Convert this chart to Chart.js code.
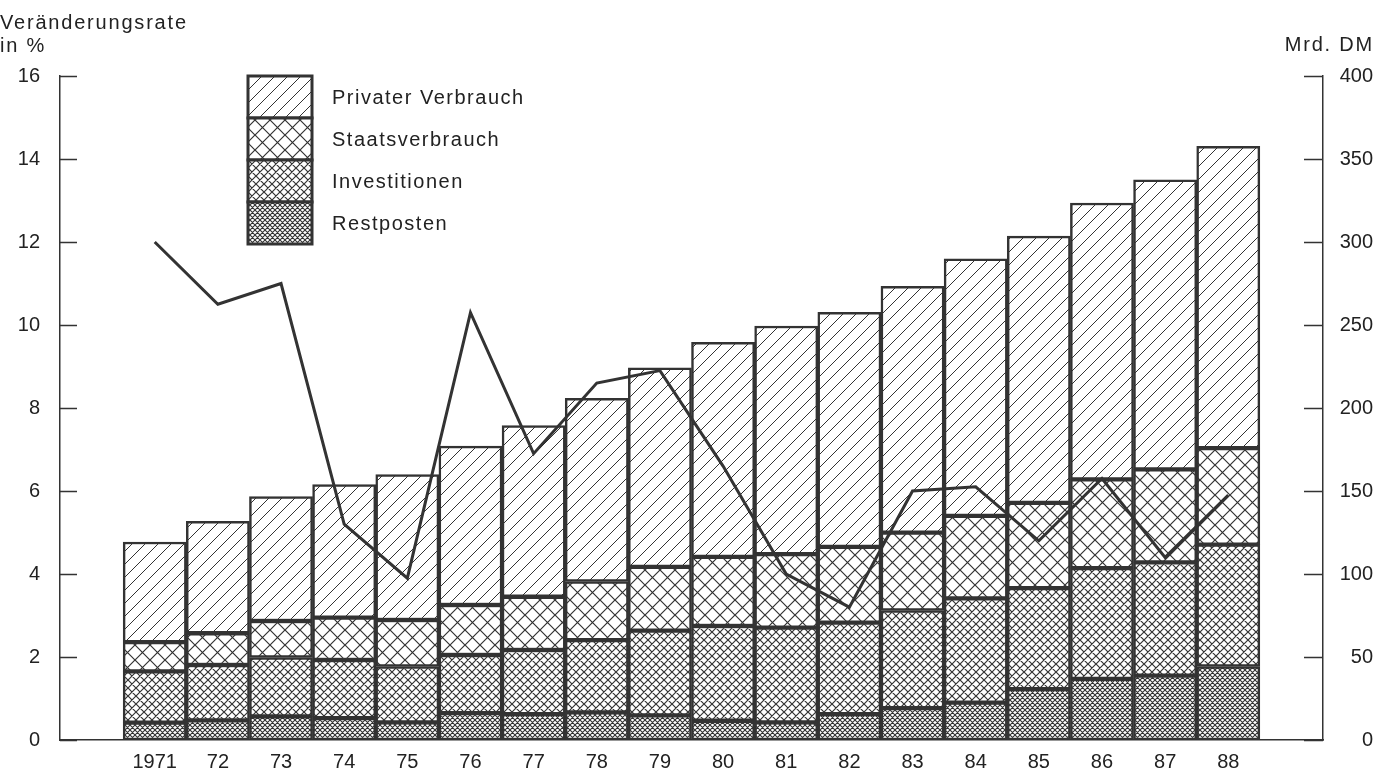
<!DOCTYPE html>
<html lang="de">
<head>
<meta charset="utf-8">
<title>Verwendung des Sozialprodukts 1971-1988</title>
<script src="https://cdn.jsdelivr.net/npm/chart.js@4.4.1/dist/chart.umd.min.js"></script>
<style>
  html, body { margin: 0; padding: 0; background: #fff; }
  #wrap { width: 1388px; height: 772px; }
</style>
</head>
<body>
<div id="wrap"><canvas id="chart" width="1388" height="772"></canvas></div>
<script>
// data (Mrd. DM, stacked from the bottom up)
const years = ['1971', '72', '73', '74', '75', '76', '77', '78', '79',
               '80', '81', '82', '83', '84', '85', '86', '87', '88'];
const restposten = [10.5, 11.8, 14.2, 13.2, 10.6, 16.2, 15.6, 16.6, 14.8,
                    11.6, 10.6, 15.6, 19.2, 22.5, 30.6, 36.8, 38.8, 44.3];
const investitionen = [30.8, 33.4, 35.5, 35.0, 33.7, 35.0, 38.6, 43.6, 51.1,
                       57.1, 57.1, 55.1, 58.8, 62.8, 60.9, 66.7, 68.2, 73.4];
const staatsverbrauch = [17.7, 19.1, 22.0, 25.5, 28.0, 30.1, 32.1, 35.3, 38.4,
                         41.6, 44.3, 45.6, 46.9, 49.7, 51.3, 53.5, 56.0, 58.1];
const privaterVerbrauch = [60.3, 67.4, 75.0, 80.2, 87.6, 95.7, 103.1, 110.3, 119.9,
                           129.2, 137.4, 141.4, 148.4, 154.8, 160.7, 166.5, 174.5, 181.9];
// Veränderungsrate in % (left axis)
const rate = [12.0, 10.5, 11.0, 5.2, 3.9, 10.3, 6.9, 8.6, 8.9,
              6.6, 4.0, 3.2, 6.0, 6.1, 4.8, 6.3, 4.4, 5.9];

const ink = '#333';
const textInk = '#222';

// one empty slot on each side of the bars
const pad = arr => [null, ...arr, null];
const labels = ['', ...years, ''];

// hatch patterns
function hatch(size, cross, lw) {
  const c = document.createElement('canvas');
  c.width = c.height = size;
  const g = c.getContext('2d');
  g.fillStyle = '#fff';
  g.fillRect(0, 0, size, size);
  g.strokeStyle = ink;
  g.lineWidth = lw;
  g.beginPath();
  for (let k = -1; k <= 1; k++) {
    g.moveTo(k * size, size);
    g.lineTo(k * size + size, 0);
    if (cross) {
      g.moveTo(k * size, 0);
      g.lineTo(k * size + size, size);
    }
  }
  g.stroke();
  return g.createPattern(c, 'repeat');
}

const patPriv = hatch(13, false, 1);
const patStaat = hatch(15, true, 1.2);
const patInv = hatch(8, true, 1.2);
const patRest = hatch(5, true, 1.1);

Chart.defaults.font.family = '"Liberation Sans", Arial, sans-serif';
Chart.defaults.font.size = 20;
Chart.defaults.color = textInk;

function barSet(label, data, pattern) {
  return {
    type: 'bar',
    label: label,
    data: pad(data),
    backgroundColor: pattern,
    borderColor: ink,
    borderWidth: 2.5,
    borderSkipped: false,
    yAxisID: 'y2',
    stack: 'dm',
    order: 1,
    barPercentage: 1,
    categoryPercentage: 1
  };
}

// axis ticks, titles and the stacked legend box
const decor = {
  id: 'decor',
  afterDraw(chart) {
    const ctx = chart.ctx;
    const a = chart.chartArea;
    const yl = chart.scales.y;
    const yr = chart.scales.y2;
    ctx.save();
    ctx.strokeStyle = ink;
    ctx.lineWidth = 1.5;
    ctx.beginPath();
    yl.ticks.forEach(t => {
      const py = Math.round(yl.getPixelForValue(t.value)) + 0.5;
      ctx.moveTo(a.left, py);
      ctx.lineTo(a.left + 17, py);
    });
    yr.ticks.forEach(t => {
      const py = Math.round(yr.getPixelForValue(t.value)) + 0.5;
      ctx.moveTo(a.right - 19, py);
      ctx.lineTo(a.right, py);
    });
    ctx.stroke();

    ctx.fillStyle = textInk;
    ctx.font = '20px "Liberation Sans", Arial, sans-serif';
    ctx.textBaseline = 'alphabetic';
    if ('letterSpacing' in ctx) ctx.letterSpacing = '1.8px';
    ctx.textAlign = 'left';
    ctx.fillText('Veränderungsrate', 0, 29);
    ctx.fillText('in %', 0, 52);
    ctx.textAlign = 'right';
    ctx.fillText('Mrd. DM', 1374, 51);

    // legend: topmost series first
    const items = chart.data.datasets.filter(d => d.type === 'bar').slice().reverse();
    const bx = 248, by = 76, bw = 64, bh = 42;
    ctx.textAlign = 'left';
    ctx.textBaseline = 'middle';
    if ('letterSpacing' in ctx) ctx.letterSpacing = '1.5px';
    items.forEach((d, i) => {
      const y = by + i * bh;
      ctx.fillStyle = d.backgroundColor;
      ctx.fillRect(bx, y, bw, bh);
      ctx.lineWidth = 3;
      ctx.strokeStyle = ink;
      ctx.strokeRect(bx, y, bw, bh);
      ctx.fillStyle = textInk;
      ctx.fillText(d.label, 332, y + bh / 2 + 1);
    });
    ctx.restore();
  }
};

new Chart(document.getElementById('chart'), {
  data: {
    labels: labels,
    datasets: [
      {
        type: 'line',
        label: 'Veränderungsrate',
        data: pad(rate),
        yAxisID: 'y',
        borderColor: ink,
        borderWidth: 3,
        pointRadius: 0,
        tension: 0,
        fill: false,
        order: 0
      },
      barSet('Restposten', restposten, patRest),
      barSet('Investitionen', investitionen, patInv),
      barSet('Staatsverbrauch', staatsverbrauch, patStaat),
      barSet('Privater Verbrauch', privaterVerbrauch, patPriv)
    ]
  },
  options: {
    responsive: false,
    animation: false,
    layout: { padding: { top: 76, right: 15, bottom: 0, left: 0 } },
    plugins: {
      legend: { display: false },
      tooltip: { enabled: false }
    },
    scales: {
      x: {
        stacked: true,
        offset: true,
        grid: { display: false, drawTicks: false },
        border: { display: true, color: ink, width: 1.5 },
        ticks: { padding: 10, color: textInk, maxRotation: 0, autoSkip: false },
        afterFit: s => { s.height = 28; }
      },
      y: {
        position: 'left',
        min: 0,
        max: 16,
        grid: { display: false, drawTicks: false },
        border: { display: true, color: ink, width: 1.5 },
        ticks: { stepSize: 2, padding: 20, color: textInk },
        afterFit: s => { s.width = 60; }
      },
      y2: {
        position: 'right',
        stacked: true,
        min: 0,
        max: 400,
        grid: { display: false, drawTicks: false },
        border: { display: true, color: ink, width: 1.5 },
        ticks: { stepSize: 50, padding: 14, color: textInk, crossAlign: 'far' },
        afterFit: s => { s.width = 50; }
      }
    }
  },
  plugins: [decor]
});
</script>
</body>
</html>
